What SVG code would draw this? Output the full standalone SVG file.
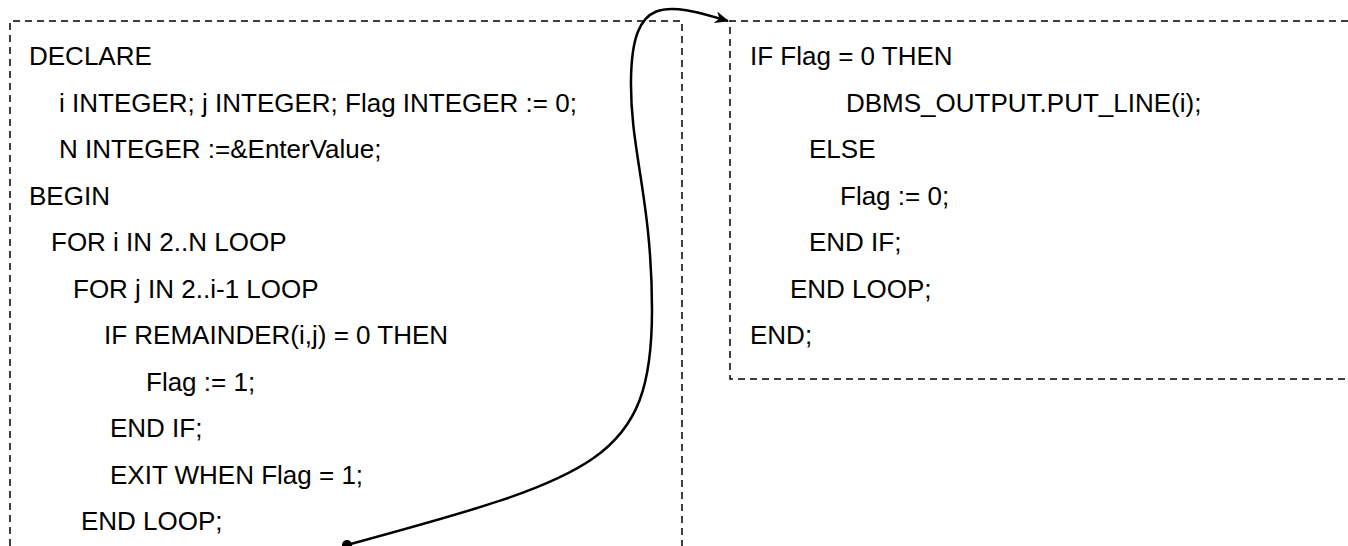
<svg xmlns="http://www.w3.org/2000/svg" width="1348" height="546" viewBox="0 0 1348 546">
  <style>
    .box { fill: none; stroke: #000; stroke-width: 1.5; stroke-dasharray: 7 5; }
    .code { font-family: "Liberation Sans", Arial, sans-serif; font-size: 26px; fill: #000; }
    .link { fill: none; stroke: #000; stroke-width: 2.5; }
  </style>
  <defs>
    <marker id="arrow" viewBox="0 0 14 12" refX="13" refY="6" markerWidth="14" markerHeight="12" markerUnits="userSpaceOnUse" orient="auto">
      <path d="M0,0 L14,6 L0,12 L4,6 Z" fill="#000"/>
    </marker>
  </defs>
  <rect width="1348" height="546" fill="#fff"/>

  <!-- first half of the PL/SQL block -->
  <g id="block-left">
    <path class="box" d="M10,546 V21 H682 V546"/>
    <text class="code" x="29" y="65">DECLARE</text>
    <text class="code" x="59" y="111.5">i INTEGER; j INTEGER; Flag INTEGER := 0;</text>
    <text class="code" x="59" y="158">N INTEGER :=&amp;EnterValue;</text>
    <text class="code" x="29" y="204.5">BEGIN</text>
    <text class="code" x="51" y="251">FOR i IN 2..N LOOP</text>
    <text class="code" x="73" y="297.5">FOR j IN 2..i-1 LOOP</text>
    <text class="code" x="104" y="344">IF REMAINDER(i,j) = 0 THEN</text>
    <text class="code" x="146" y="390.5">Flag := 1;</text>
    <text class="code" x="110" y="437">END IF;</text>
    <text class="code" x="110" y="483.5">EXIT WHEN Flag = 1;</text>
    <text class="code" x="81" y="530">END LOOP;</text>
  </g>

  <!-- continuation of the block -->
  <g id="block-right">
    <path class="box" d="M1348,21 H730 V379 H1348"/>
    <text class="code" x="750" y="65">IF Flag = 0 THEN</text>
    <text class="code" x="846" y="111.5">DBMS_OUTPUT.PUT_LINE(i);</text>
    <text class="code" x="809" y="158">ELSE</text>
    <text class="code" x="840" y="204.5">Flag := 0;</text>
    <text class="code" x="809" y="251">END IF;</text>
    <text class="code" x="790" y="297.5">END LOOP;</text>
    <text class="code" x="750" y="344">END;</text>
  </g>

  <!-- continuation link -->
  <g id="connectors">
    <circle cx="347" cy="545" r="5" fill="#000"/>
    <path class="link" marker-end="url(#arrow)" d="M347,545 C597,477 652,460 652,310 C652,200 630,150 631,80 C632,-5 665,2 728,21"/>
  </g>
</svg>
